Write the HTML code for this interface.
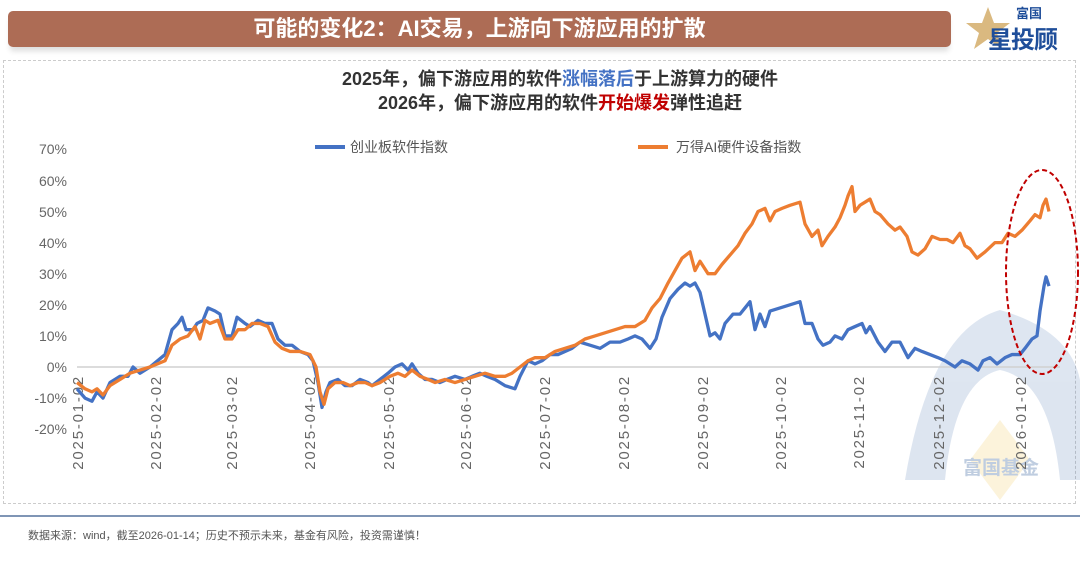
<!DOCTYPE html>
<html><head><meta charset="utf-8"><style>
body{margin:0;width:1080px;height:563px;background:#fff;font-family:"Liberation Sans","Noto Sans CJK SC",sans-serif;overflow:hidden;position:relative}
.hdr{position:absolute;left:8px;top:11px;width:943px;height:36px;background:#ad6c55;border-radius:5px;box-shadow:0 6px 6px -2px #ddd;color:#fff;font-weight:bold;font-size:22px;text-align:center;line-height:36px}
.box{position:absolute;left:3px;top:60px;width:1071px;height:442px;border:1px dashed #ccc}
.sub{position:absolute;left:0;width:1120px;text-align:center;font-weight:bold;font-size:18px;color:#333}
.foot{position:absolute;left:28px;top:527px;font-size:11px;color:#555}
.line{position:absolute;left:0;top:515px;width:1080px;height:2px;background:#7f95b5}
</style></head><body>
<div class="hdr">可能的变化2：AI交易，上游向下游应用的扩散</div>
<div style="position:absolute;left:966px;top:3px;width:110px;height:48px">
<svg width="110" height="48"><polygon points="22,4 28,20 44,20 31,30 36,46 22,36 8,46 13,30 0,20 16,20" fill="#d4ad6a" opacity="0.85"/></svg>
<div style="position:absolute;left:50px;top:0;font-size:13px;font-weight:bold;color:#1f4e9a">富国</div>
<div style="position:absolute;left:22px;top:17px;font-size:24px;font-weight:bold;color:#1f4e9a;letter-spacing:-1px">星投顾</div>
</div>
<div class="box"></div>
<div class="sub" style="top:65px">2025年，偏下游应用的软件<span style="color:#4472c4">涨幅落后</span>于上游算力的硬件</div>
<div class="sub" style="top:89px">2026年，偏下游应用的软件<span style="color:#c00000">开始爆发</span>弹性追赶</div>
<svg width="1080" height="563" style="position:absolute;left:0;top:0">
<g opacity="0.18">
<path d="M905,480 Q930,330 1000,310 Q1070,330 1080,380 L1080,480 L1060,480 Q1050,380 1000,370 Q955,380 945,480Z" fill="#4a72b0"/>
<path d="M1000,420 L1030,460 L1000,500 L970,460Z" fill="#f0c040"/>
</g>
<text x="963" y="474" font-size="19" font-weight="bold" fill="#bfcde0">富国基金</text>
<line x1="315" y1="147" x2="345" y2="147" stroke="#4472c4" stroke-width="4"/>
<text x="350" y="152" font-size="14" fill="#555">创业板软件指数</text>
<line x1="638" y1="147" x2="668" y2="147" stroke="#ed7d31" stroke-width="4"/>
<text x="676" y="152" font-size="14" fill="#555">万得AI硬件设备指数</text>
<g font-size="14" fill="#666" text-anchor="end">
<text x="67" y="154">70%</text><text x="67" y="186">60%</text><text x="67" y="217">50%</text><text x="67" y="248">40%</text><text x="67" y="279">30%</text><text x="67" y="310">20%</text><text x="67" y="341">10%</text><text x="67" y="372">0%</text><text x="67" y="403">-10%</text><text x="67" y="434">-20%</text>
</g>
<line x1="77" y1="367" x2="1060" y2="367" stroke="#d0d0d0" stroke-width="1.5"/>
<g font-size="15" fill="#666" text-anchor="end" letter-spacing="1.8">
<text transform="translate(83,375) rotate(-90)">2025-01-02</text>
<text transform="translate(161,375) rotate(-90)">2025-02-02</text>
<text transform="translate(237,375) rotate(-90)">2025-03-02</text>
<text transform="translate(315,375) rotate(-90)">2025-04-02</text>
<text transform="translate(394,375) rotate(-90)">2025-05-02</text>
<text transform="translate(471,375) rotate(-90)">2025-06-02</text>
<text transform="translate(550,375) rotate(-90)">2025-07-02</text>
<text transform="translate(629,375) rotate(-90)">2025-08-02</text>
<text transform="translate(708,375) rotate(-90)">2025-09-02</text>
<text transform="translate(786,375) rotate(-90)">2025-10-02</text>
<text transform="translate(864,375) rotate(-90)">2025-11-02</text>
<text transform="translate(944,375) rotate(-90)">2025-12-02</text>
<text transform="translate(1026,375) rotate(-90)">2026-01-02</text>
</g>
<g transform="translate(0,367) scale(1,-3.11)" fill="none" stroke-linejoin="round">
<polyline vector-effect="non-scaling-stroke" stroke="#4472c4" stroke-width="3.3" points="77,-7 85,-10 92,-11 97,-8 103,-10 110,-5 120,-3 128,-3 133,0 140,-2 150,0 165,4 172,12 178,14 182,16 186,12 193,12 197,14 203,15 208,19 215,18 220,17 225,10 232,10 237,16 245,14 250,13 258,15 265,14 272,14 278,9 285,7 292,7 300,5 308,4 313,2 318,-5 322,-13 326,-8 330,-5 338,-4 345,-6 352,-6 360,-4 368,-5 372,-6 380,-4 388,-2 395,0 402,1 408,-1 412,1 418,-2 425,-4 432,-4 440,-5 447,-4 455,-3 465,-4 472,-3 480,-2 487,-3 495,-4 505,-6 515,-7 520,-3 528,2 535,1 542,2 550,4 558,4 565,5 572,6 580,8 590,7 600,6 610,8 620,8 628,9 635,10 642,9 650,6 656,9 662,16 670,22 678,25 685,27 690,26 695,27 700,24 705,17 710,10 715,11 720,9 725,14 733,17 740,17 745,19 750,21 755,12 760,17 765,13 770,18 780,19 790,20 800,21 805,14 812,14 818,9 823,7 830,8 835,10 842,9 848,12 855,13 862,14 866,11 870,13 878,8 885,5 892,8 900,8 908,3 915,6 922,5 930,4 938,3 945,2 955,0 962,2 970,1 978,-1 983,2 990,3 997,1 1005,3 1012,4 1020,4 1025,6 1032,9 1037,10 1040,18 1044,26 1046,29 1049,26"/>
<polyline vector-effect="non-scaling-stroke" stroke="#ed7d31" stroke-width="3.3" points="77,-5 85,-7 92,-8 97,-7 103,-9 110,-6 120,-4 130,-2 140,-1 150,0 165,2 172,7 180,9 188,10 195,13 200,9 205,15 210,14 218,15 225,9 232,9 238,12 245,12 252,14 260,14 268,13 275,8 282,6 290,5 300,5 310,4 316,0 320,-8 324,-12 328,-7 335,-5 343,-5 350,-6 358,-5 365,-5 372,-6 380,-5 390,-3 398,-2 405,-3 412,-1 420,-3 428,-4 435,-5 445,-4 455,-5 465,-4 475,-3 485,-2 495,-3 505,-3 512,-2 520,0 528,2 535,3 545,3 555,5 565,6 575,7 585,9 595,10 605,11 615,12 625,13 635,13 645,15 652,19 660,22 668,27 675,31 682,35 690,37 695,31 700,34 708,30 715,30 722,33 730,36 738,39 745,43 752,46 758,50 765,51 770,47 775,50 782,51 790,52 800,53 805,46 812,42 818,44 822,39 828,42 835,45 840,48 845,52 848,55 852,58 855,50 860,52 865,53 870,54 875,50 880,49 888,46 895,44 900,45 907,42 912,37 918,36 925,38 932,42 940,41 947,41 953,40 960,43 965,39 970,38 977,35 985,37 995,40 1002,40 1008,43 1015,42 1022,44 1030,47 1035,49 1040,48 1043,52 1046,54 1049,50"/>
</g>
<ellipse cx="1042" cy="272" rx="36" ry="102" fill="none" stroke="#c00000" stroke-width="2" stroke-dasharray="5,3"/>
</svg>
<div class="line"></div>
<div class="foot">数据来源：wind，截至2026-01-14；历史不预示未来，基金有风险，投资需谨慎！</div>
</body></html>
